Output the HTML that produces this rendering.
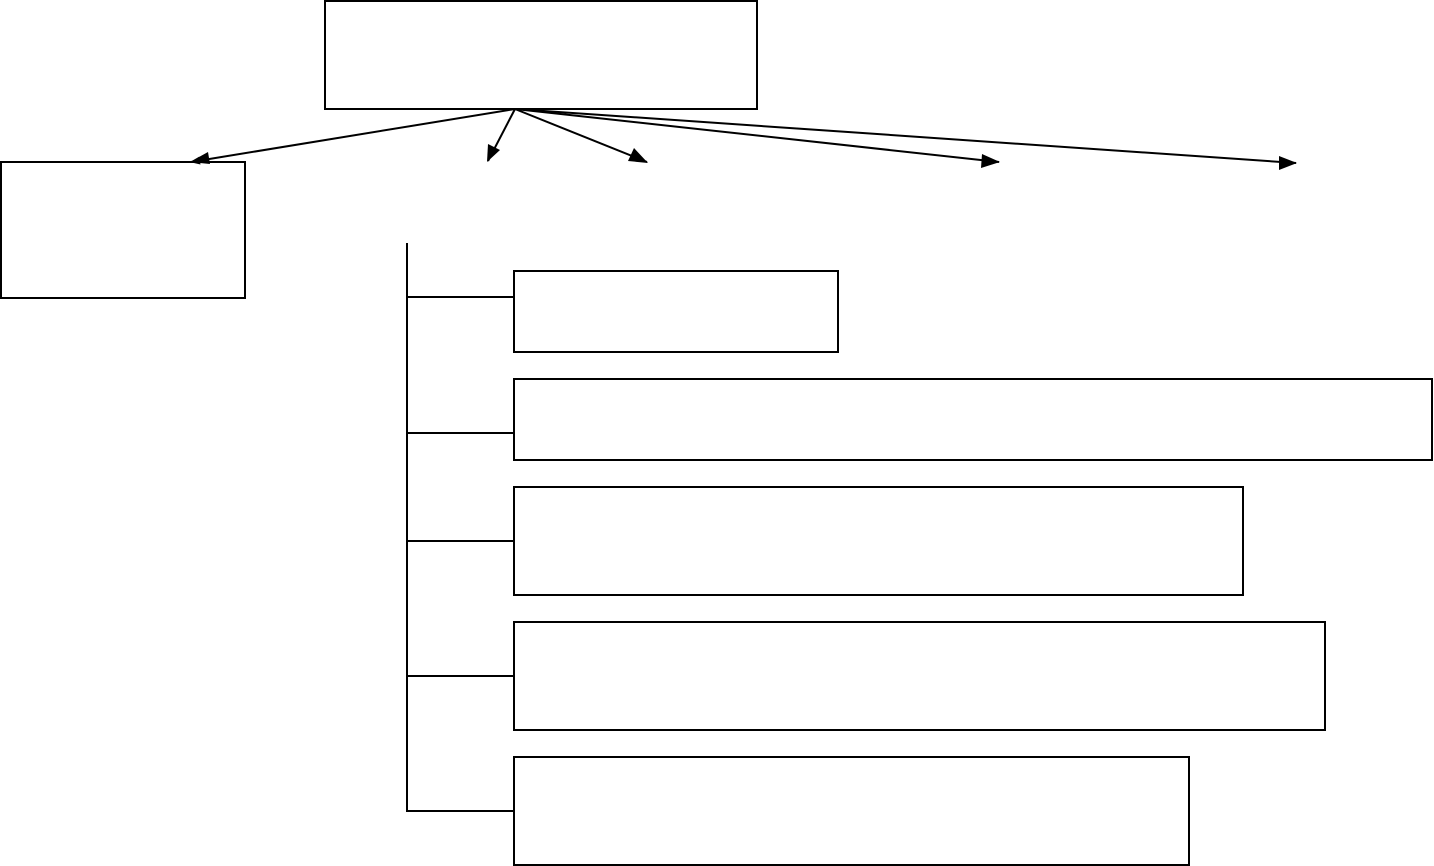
<!DOCTYPE html>
<html><head><meta charset="utf-8"><style>
html,body{margin:0;padding:0;background:#fff;width:1434px;height:866px;overflow:hidden}
svg{display:block}
</style></head><body>
<svg width="1434" height="866" viewBox="0 0 1434 866" xmlns="http://www.w3.org/2000/svg">
<defs>
<marker id="a" markerWidth="10" markerHeight="8" refX="9" refY="4" orient="auto" markerUnits="userSpaceOnUse" viewBox="0 0 10 8">
<path d="M0,0 L10,4 L0,8 Z" fill="#000"/>
</marker>
</defs>
<g fill="none" stroke="#000" stroke-width="2">
<rect x="325" y="1" width="432" height="108"/>
<rect x="1" y="162" width="244" height="136"/>
<rect x="514" y="271" width="324" height="81"/>
<rect x="514" y="379" width="918" height="81"/>
<rect x="514" y="487" width="729" height="108"/>
<rect x="514" y="622" width="811" height="108"/>
<rect x="514" y="757" width="675" height="108"/>
<line x1="407" y1="243" x2="407" y2="812"/>
<line x1="407" y1="297" x2="514" y2="297"/>
<line x1="407" y1="433" x2="514" y2="433"/>
<line x1="407" y1="541" x2="514" y2="541"/>
<line x1="407" y1="676" x2="514" y2="676"/>
<line x1="407" y1="811" x2="514" y2="811"/>
</g>
<g stroke="#000" stroke-width="2" fill="none">
<path d="M515 109 L191 162" marker-end="url(#a)" stroke-width="2"/>
<path d="M515 109 L488 161"/>
<path d="M515 109 L647 162"/>
<path d="M515 109 L999 162"/>
<path d="M515 109 L1296 163"/>
</g>
<g fill="#000">
<polygon points="190,162 208,152 210,164"/>
<polygon points="487,162 488,144 500,150"/>
<polygon points="648,163 628,161 634,148"/>
<polygon points="1000,162 982,154 981,168"/>
<polygon points="1297,163 1279,156 1279,170"/>
</g>
</svg>
</body></html>
